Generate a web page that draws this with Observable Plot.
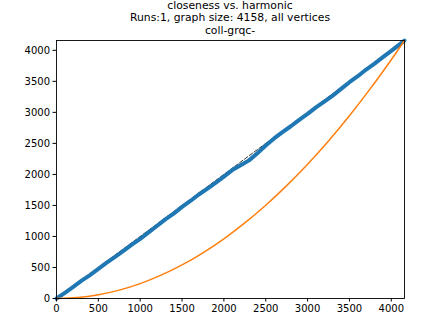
<!DOCTYPE html>
<html>
<head>
<meta charset="utf-8">
<script src="https://cdn.jsdelivr.net/npm/d3@7"></script>
<script src="https://cdn.jsdelivr.net/npm/@observablehq/plot@0.6"></script>
<style>
  html, body { margin: 0; padding: 0; background: #fff; }
  #wrap { position: relative; width: 448px; height: 336px; overflow: hidden; }
  .tline { position: absolute; left: 0; width: 460px; height: 12.6px; text-align: center;
           font-family: "DejaVu Sans", sans-serif; font-size: 10.8px; line-height: 12.6px; color: #000; white-space: nowrap; }
  #chart { position: absolute; top: 0; left: 0; }
</style>
</head>
<body>
<div id="wrap">
  <div id="chart"></div>
  <div class="tline" style="top:-0.5px">closeness vs. harmonic</div>
  <div class="tline" style="top:12.1px">Runs:1, graph size: 4158, all vertices</div>
  <div class="tline" style="top:24.7px">coll-grqc-</div>
</div>
<script>
// ---- data ----
const graphSize = 4158;

const closenessX = [0,100,200,300,400,500,600,700,800,900,1000,1100,1200,1300,1400,1500,1600,1700,1800,1900,2000,2100,2200,2300,2400,2500,2600,2700,2800,2900,3000,3100,3200,3300,3400,3500,3600,3700,3800,3900,4000,4100,4158];
const closenessY = [0,92,188,287,378,476,578,672,767,868,962,1066,1168,1276,1368,1476,1572,1676,1768,1862,1965,2070,2147,2226,2342,2466,2580,2682,2776,2880,2976,3080,3172,3268,3378,3486,3582,3690,3786,3890,3990,4095,4158];

const harmonicX = [0,250,500,750,1000,1250,1500,1750,2000,2250,2500,2750,3000,3250,3500,3750,4000,4158];
const harmonicY = [0,15,60,135,240,376,541,737,962,1218,1503,1819,2164,2540,2946,3382,3848,4158];

const diagX = [0, 4158];
const diagY = [0, 4158];

const xTicks = [0,500,1000,1500,2000,2500,3000,3500,4000];
const yTicks = [0,500,1000,1500,2000,2500,3000,3500,4000];

// ---- build tables ----
const closeness = closenessX.map((x, i) => ({x, y: closenessY[i]}));
const harmonic = harmonicX.map((x, i) => ({x, y: harmonicY[i]}));
const diag = diagX.map((x, i) => ({x, y: diagY[i]}));

const chart = Plot.plot({
  width: 448,
  height: 336,
  marginLeft: 56,
  marginRight: 44,
  marginTop: 40,
  marginBottom: 38,
  style: { fontFamily: "DejaVu Sans, sans-serif", fontSize: "10px", color: "#000", background: "#fff" },
  x: { domain: [0, graphSize], label: null },
  y: { domain: [0, graphSize], label: null },
  marks: [
    Plot.line(diag, {x: "x", y: "y", stroke: "#333", strokeWidth: 1, strokeDasharray: "4,2"}),
    Plot.line(closeness, {x: "x", y: "y", stroke: "#1f77b4", strokeWidth: 4, curve: "linear"}),
    Plot.line(harmonic, {x: "x", y: "y", stroke: "#ff7f0e", strokeWidth: 1.5, curve: "catmull-rom"}),
    Plot.frame({stroke: "#000", strokeWidth: 0.9}),
    Plot.axisX({ticks: xTicks, tickSize: 3.5, tickPadding: 3, tickFormat: d => String(d), fontSize: 10, label: null}),
    Plot.axisY({ticks: yTicks, tickSize: 3.5, tickPadding: 3, tickFormat: d => String(d), fontSize: 10, label: null})
  ]
});
document.getElementById("chart").appendChild(chart);
</script>
</body>
</html>
